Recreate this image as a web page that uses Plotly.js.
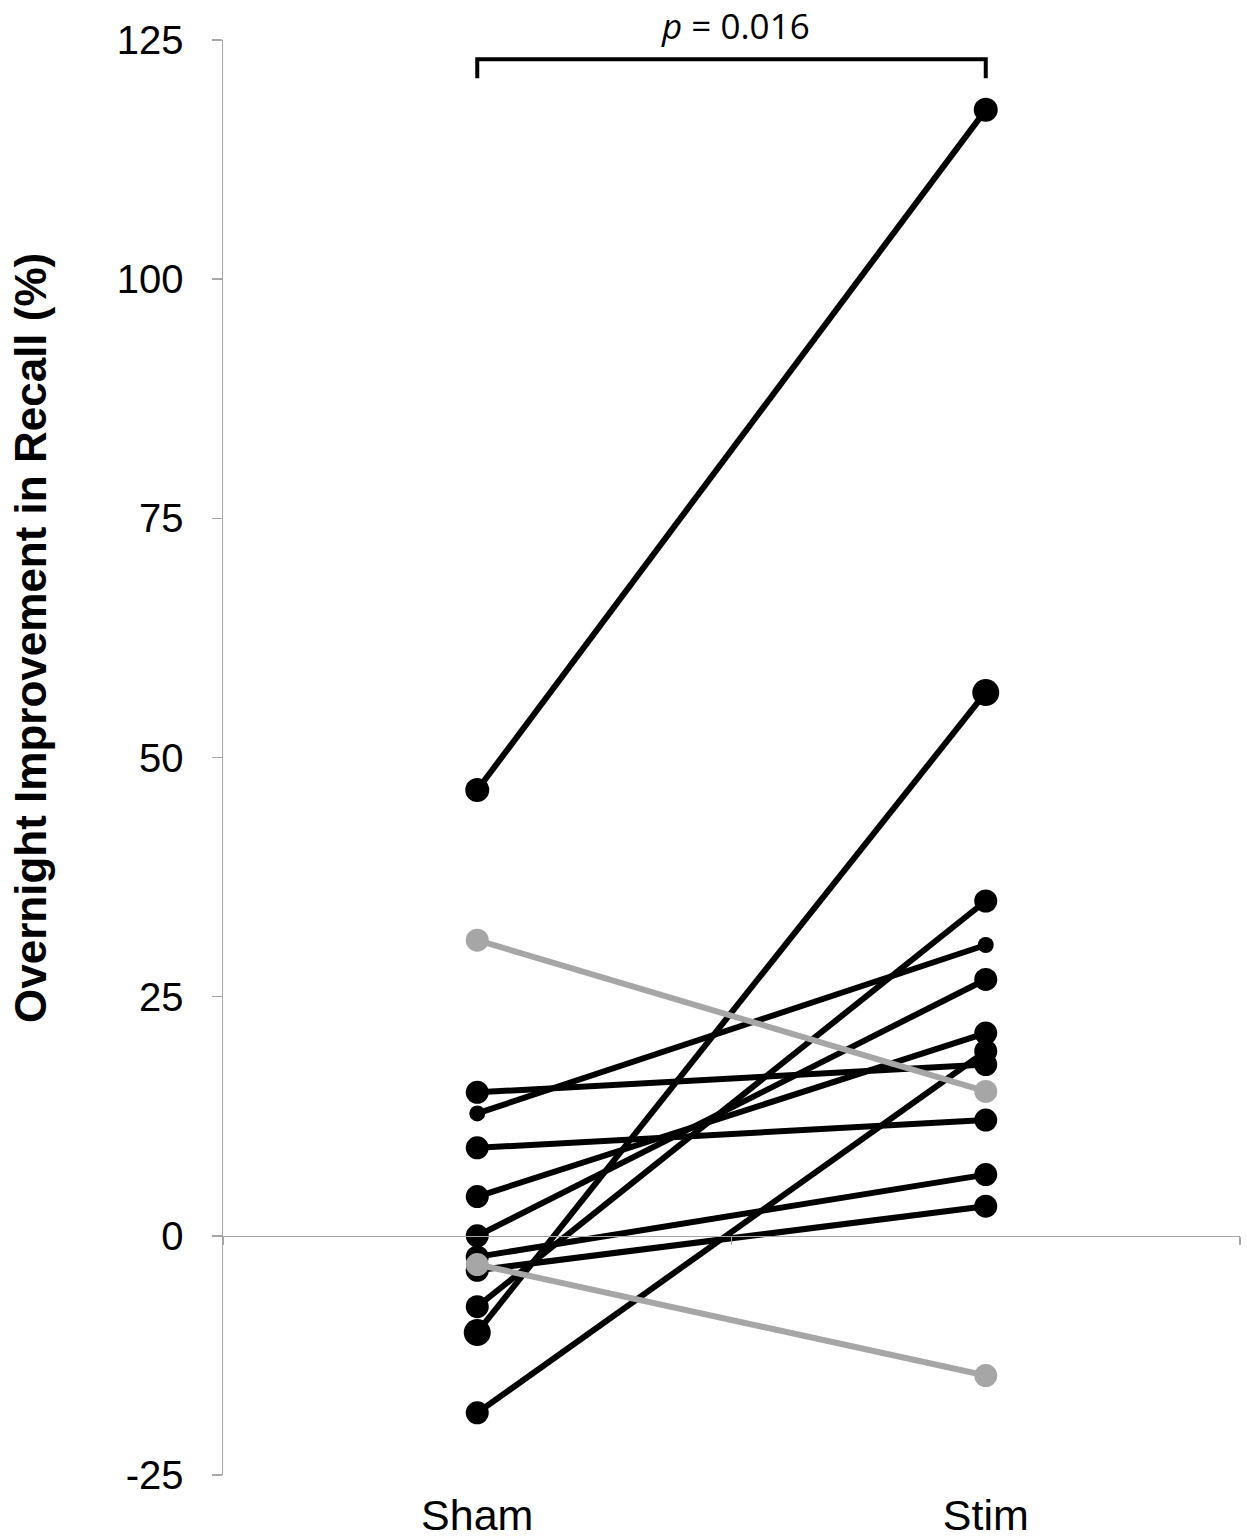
<!DOCTYPE html>
<html>
<head>
<meta charset="utf-8">
<script src="https://cdn.plot.ly/plotly-3.0.1.min.js"></script>
<style>html,body{margin:0;padding:0;background:#fff;}#chart{width:1247px;height:1539px;}</style>
</head>
<body>
<div id="chart"></div>
<script>
// ---- data ----
const categories = ['Sham', 'Stim'];
const shamValues = [46.6, 15.0, 12.8, 9.2, 4.1, 0.0, -2.2, -3.6, -7.4, -10.1, -18.5, 30.9, -3.0];
const stimValues = [117.7, 17.9, 30.4, 12.1, 21.2, 26.8, 6.4, 3.1, 35.0, 56.8, 19.3, 15.1, -14.6];
const participantGroup = ['up','up','up','up','up','up','up','up','up','up','up','down','down'];
const yTickValues = [-25, 0, 25, 50, 75, 100, 125];
const yTickLabels = ['-25', '0', '25', '50', '75', '100', '125'];
const bracketY = [121, 123, 123, 121];
const pLabel = '<i>p</i> = 0.016';
const yTitle = '<b>Overnight Improvement in Recall (%)</b>';
const yTitleCenter = 62.5;

// ---- styles ----
const groupColor = {up: '#000000', down: '#a6a6a6'};
const markerSizes = [24, 23, 16, 23, 23, 23, 23, 23, 23, 27, 23, 23, 23];
const axisGray = '#a6a6a6';
const font = 'Liberation Sans, Arial, sans-serif';

const traces = [];
const order = [];
participantGroup.forEach((g, i) => { if (g === 'up') order.push(i); });
participantGroup.forEach((g, i) => { if (g !== 'up') order.push(i); });
order.forEach(i => {
  const c = groupColor[participantGroup[i]];
  traces.push({
    type: 'scatter', mode: 'lines+markers',
    x: categories, y: [shamValues[i], stimValues[i]],
    line: {color: c, width: 6},
    marker: {color: c, size: markerSizes[i]},
    cliponaxis: false, showlegend: false, hoverinfo: 'y'
  });
});
// significance bracket
traces.push({
  type: 'scatter', mode: 'lines',
  x: [categories[0], categories[0], categories[1], categories[1]],
  y: bracketY,
  line: {color: '#000', width: 4},
  cliponaxis: false, showlegend: false, hoverinfo: 'skip'
});
// helper trace for the axis line at y = 0
traces.push({
  type: 'scatter', mode: 'markers', x: categories, y: [null, null],
  xaxis: 'x2', yaxis: 'y', showlegend: false, hoverinfo: 'skip'
});

const layout = {
  width: 1247, height: 1539,
  margin: {l: 223, r: 7, t: 40, b: 64},
  paper_bgcolor: '#fff', plot_bgcolor: '#fff',
  font: {family: font, color: '#000'},
  showlegend: false,
  xaxis: {
    type: 'category', range: [-0.5, 1.5],
    showline: false, showgrid: false, zeroline: false, ticks: '',
    tickfont: {size: 43, family: font, color: '#000'},
    ticklabelstandoff: 11
  },
  xaxis2: {
    type: 'category', range: [-0.5, 1.5], overlaying: 'x',
    anchor: 'free', position: 25 / 150,
    showline: true, linecolor: axisGray, linewidth: 1.5,
    ticks: 'outside', tickson: 'boundaries', ticklen: 8, tickcolor: axisGray, tickwidth: 1.5,
    showticklabels: false, showgrid: false, zeroline: false
  },
  yaxis: {
    range: [-25, 125], tickmode: 'array', tickvals: yTickValues, ticktext: yTickLabels,
    showline: true, linecolor: axisGray, linewidth: 1.5,
    ticks: 'outside', ticklen: 10, tickcolor: axisGray, tickwidth: 1.5,
    showgrid: false, zeroline: false,
    tickfont: {size: 40, family: font, color: '#000'},
    ticklabelstandoff: 20,
    automargin: false
  },
  annotations: [{
    xref: 'paper', yref: 'paper', x: 0.5, y: 1, yanchor: 'middle', yshift: 15, xshift: 4,
    text: pLabel, showarrow: false,
    font: {family: 'Open Sans, Noto Sans, sans-serif', size: 35, color: '#000'}
  }, {
    xref: 'paper', yref: 'y', x: 0, y: yTitleCenter, xanchor: 'center', yanchor: 'middle',
    xshift: -192, textangle: -90, showarrow: false,
    text: yTitle, font: {family: font, size: 44, color: '#000'}
  }]
};

Plotly.newPlot('chart', traces, layout, {displayModeBar: false, staticPlot: true});
</script>
</body>
</html>
